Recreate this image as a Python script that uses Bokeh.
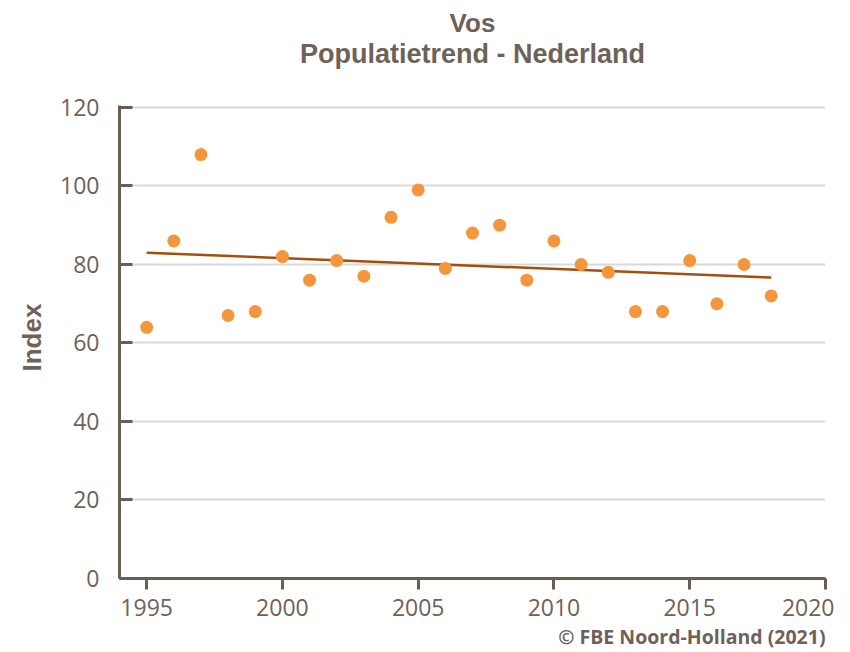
import numpy as np
from bokeh.plotting import figure
from bokeh.models import Range1d, Title, FixedTicker, ColumnDataSource, Label
from bokeh.embed import file_html
from bokeh.resources import INLINE

years = [1995, 1996, 1997, 1998, 1999, 2000, 2001, 2002, 2003, 2004, 2005, 2006,
         2007, 2008, 2009, 2010, 2011, 2012, 2013, 2014, 2015, 2016, 2017, 2018]
index_values = [64, 86, 108, 67, 68, 82, 76, 81, 77, 92, 99, 79,
                88, 90, 76, 86, 80, 78, 68, 68, 81, 70, 80, 72]
x_ticks = [1995, 2000, 2005, 2010, 2015, 2020]
y_ticks = [0, 20, 40, 60, 80, 100, 120]

title_main = "Vos"
title_sub = "Populatietrend - Nederland"
y_label = "Index"
credit = "\u00a9 FBE Noord-Holland (2021)"

AX = "#6b5d50"
TXT = "#6e6258"

X0, X1 = 1994, 2020
Y_AXIS_TOP = 120.6          # where the visible y axis / data area ends
PX_PER_UNIT = 475 / 120.8   # vertical scale of the data area
FRAME_BOTTOM_PX = 579       # frame height in pixels (frame starts at top of canvas)
Y_TOP = FRAME_BOTTOM_PX / PX_PER_UNIT  # head-room above the data area holds the titles

# linear trend (least squares) through the data
coef = np.polyfit(years, index_values, 1)
trend_x = [years[0], years[-1]]
trend_y = [float(np.polyval(coef, v)) for v in trend_x]

p = figure(width=834, height=652, output_backend="svg", toolbar_location=None,
           x_range=Range1d(X0, X1), y_range=Range1d(0, Y_TOP),
           min_border_left=119, min_border_right=9, min_border_top=0,
           min_border_bottom=73)
p.outline_line_color = None
p.background_fill_color = "white"
p.border_fill_color = "white"

# titles: centred over the plot area, in the head-room above the data area
xc = (X0 + X1) / 2
p.add_layout(Label(x=xc, y=(FRAME_BOTTOM_PX - 23) / PX_PER_UNIT, text=title_main,
                   text_align="center", text_baseline="alphabetic",
                   text_font="Liberation Sans", text_font_style="bold",
                   text_font_size="26px", text_color=TXT))
p.add_layout(Label(x=xc, y=(FRAME_BOTTOM_PX - 54) / PX_PER_UNIT, text=title_sub,
                   text_align="center", text_baseline="alphabetic",
                   text_font="Liberation Sans", text_font_style="bold",
                   text_font_size="27px", text_color=TXT))
p.add_layout(Title(text=credit, align="right", text_font="Open Sans",
                   text_font_style="bold", text_font_size="19.5px",
                   text_color=TXT, standoff=5), "below")

# grid
p.xgrid.grid_line_color = None
p.ygrid.grid_line_color = "#d9d9d9"
p.ygrid.grid_line_width = 2
p.ygrid.ticker = FixedTicker(ticks=y_ticks)
p.ygrid.bounds = (0, 120)

# axes
p.xaxis.ticker = FixedTicker(ticks=x_ticks)
p.yaxis.ticker = FixedTicker(ticks=y_ticks)
p.yaxis.bounds = (0, Y_AXIS_TOP)
for ax in (p.xaxis[0], p.yaxis[0]):
    ax.axis_line_color = AX
    ax.axis_line_width = 3
    ax.major_tick_line_color = AX
    ax.major_tick_line_width = 3
    ax.minor_tick_line_color = None
    ax.major_label_text_font = "Open Sans"
    ax.major_label_text_font_size = "23px"
    ax.major_label_text_color = TXT

p.xaxis.major_tick_in = 0
p.xaxis.major_tick_out = 11
p.xaxis.major_label_standoff = 9

p.yaxis.major_tick_in = 13
p.yaxis.major_tick_out = 0
p.yaxis.major_label_standoff = 20

# y-axis title, placed along the data area (offset measured from the frame bottom)
p.add_layout(Title(text=y_label, align="left", vertical_align="bottom",
                   offset=207, standoff=22,
                   text_font="Liberation Sans", text_font_style="bold",
                   text_font_size="26px", text_color=TXT), "left")

src = ColumnDataSource(dict(x=years, y=index_values))
p.line(trend_x, trend_y, line_color="#a0500c", line_width=2.5)
p.scatter("x", "y", source=src, size=13, fill_color="#f5963d",
          line_color="#f5963d", line_width=0)

open("out.html", "w").write(file_html(p, INLINE))
